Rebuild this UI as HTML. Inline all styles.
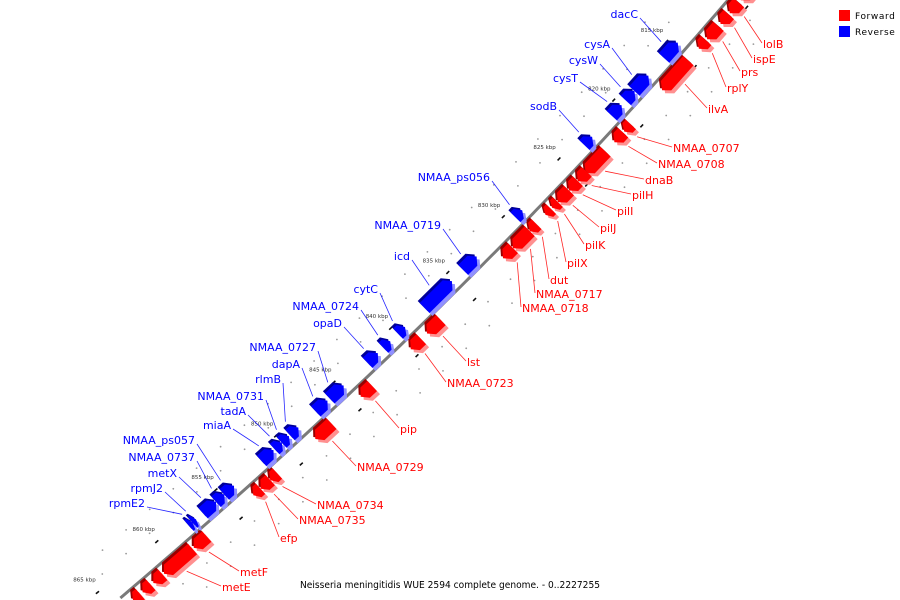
<!DOCTYPE html>
<html><head><meta charset="utf-8"><style>
html,body{margin:0;padding:0;background:#fff;width:900px;height:600px;overflow:hidden;}
svg{display:block;}
text{font-family:"DejaVu Sans","Liberation Sans",sans-serif;}
</style></head><body>
<svg id="map" width="900" height="600" viewBox="0 0 900 600" overflow="hidden" xmlns="http://www.w3.org/2000/svg">
<g id="grid"></g>
<path id="backbone" fill="none" stroke="#7a7a7a" stroke-width="3"/>
<g id="genes"></g>
<g id="labels"></g>
<g>
<rect x="839" y="10" width="11" height="11" fill="#ff0000"/>
<text x="855" y="19" font-size="9" letter-spacing="0.6" fill="#000">Forward</text>
<rect x="839" y="26" width="11" height="11" fill="#0000ff"/>
<text x="855" y="35" font-size="9" letter-spacing="0.6" fill="#000">Reverse</text>
</g>
<text x="300" y="588" font-size="10" textLength="300" lengthAdjust="spacingAndGlyphs" fill="#000">Neisseria meningitidis WUE 2594 complete genome. - 0..2227255</text>
</svg>
<script>
// tick labels (kbp)
const tickKbp = [810,815,820,825,830,835,840,845,850,855,860,865];
// gene data
const geneNames = ["","lolB","ispE","prs","rplY","ilvA","NMAA_0707","NMAA_0708","dnaB","pilH","pilI","pilJ","pilK","pilX","dut","NMAA_0717","NMAA_0718","lst","NMAA_0723","pip","NMAA_0729","NMAA_0734","NMAA_0735","efp","metF","metE","","","",
"dacC","cysA","cysW","cysT","sodB","NMAA_ps056","NMAA_0719","icd","cytC","NMAA_0724","opaD","NMAA_0727","dapA","rlmB","NMAA_0731","tadA","miaA","NMAA_ps057","NMAA_0737","metX","rpmJ2","rpmE2"];
const geneStart = [808.6,810.1,811.1,812.1,813.3,815.0,820.4,821.1,822.7,824.4,825.2,826.0,827.0,827.6,828.9,829.5,831.0,837.4,839.1,843.4,846.9,851.5,852.1,852.9,857.4,858.6,861.1,862.1,863.0,
814.6,817.4,818.7,819.9,822.6,828.9,833.0,835.2,839.3,840.6,841.7,844.7,846.1,848.6,849.4,850.0,850.7,854.0,854.8,855.5,857.2,857.5];
const geneEnd = [809.9,811.0,811.9,813.2,814.0,817.5,821.0,821.9,824.5,825.2,826.0,827.0,827.5,828.1,829.5,831.0,831.9,838.6,840.0,844.4,848.3,852.1,852.9,853.5,858.5,861.0,861.9,862.8,863.6,
815.9,818.7,819.5,820.8,823.3,829.5,834.2,837.6,839.9,841.2,842.6,845.9,847.1,849.3,850.0,850.6,851.7,854.8,855.5,856.6,857.5,857.8];
const geneStrand = [1,1,1,1,1,1,1,1,1,1,1,1,1,1,1,1,1,1,1,1,1,1,1,1,1,1,1,1,1,
-1,-1,-1,-1,-1,-1,-1,-1,-1,-1,-1,-1,-1,-1,-1,-1,-1,-1,-1,-1,-1,-1];
// label layout (x = left edge for forward / right edge for reverse, y = centre)
const labelLayout = [null,[763,44],[753,59],[741,72],[727,88],[708,109],[673,148],[658,164],[645,180],[632,195],[617,211],[600,228],[585,245],[567,263],[550,280],[536,294],[522,308],[467,362],[447,383],[400,429],[357,467],[317,505],[299,520],[280,538],[240,572],[222,587],null,null,null,
[638,14],[610,44],[598,60],[578,78],[557,106],[490,177],[441,225],[410,256],[378,289],[359,306],[342,323],[316,347],[300,364],[281,379],[264,396],[246,411],[231,425],[195,440],[195,457],[177,473],[163,488],[145,503]];

const NS="http://www.w3.org/2000/svg";
const ancK=[815,820,825,830,835,840,845,850,855,860,865];
const ancY=[54,113,172,230,286,342,396,450,504,556,607];
function kToY(k){
  let i=0; while(i<ancK.length-2 && k>ancK[i+1]) i++;
  return ancY[i]+(k-ancK[i])*(ancY[i+1]-ancY[i])/(ancK[i+1]-ancK[i]);
}
function pt(k){const t=kToY(k)/600;return [(1-t)*(1-t)*728+2*t*(1-t)*471+t*t*118, 600*t];}
function tan(k){const t=kToY(k)/600;const dx=-514*(1-t)-706*t,dy=600;const l=Math.hypot(dx,dy);return [dx/l,dy/l];}
function mk(tag,attrs,parent){const e=document.createElementNS(NS,tag);for(const a in attrs)e.setAttribute(a,attrs[a]);parent.appendChild(e);return e;}

// backbone
let d="";for(let y=-2;y<=600;y+=4){const t=y/600;const x=(1-t)*(1-t)*728+2*t*(1-t)*471+t*t*118;d+=(y===-2?"M":"L")+x.toFixed(1)+","+y;}
document.getElementById('backbone').setAttribute('d',d);

const grid=document.getElementById('grid');
function sideN(k,s){const u=tan(k);let n=[u[1],-u[0]];if(n[0]+n[1]<0)n=[-n[0],-n[1]];return s>0?n:[-n[0],-n[1]];}

// sparse grey dots
for(let k=808;k<=866;k+=2){
  [1,-1].forEach(s=>{[30,48].forEach((off,j)=>{
    const kk=k+(j?1:0)+(s>0?0.5:0);const p=pt(kk),n=sideN(kk,s);
    if(p[1]<0||p[1]>600)return;
    const c=mk('circle',{cx:(p[0]+n[0]*off).toFixed(1),cy:(p[1]+n[1]*off).toFixed(1),r:0.9,fill:'#999'},grid);
    
    
  });});
}
// major ticks + labels
tickKbp.forEach(k=>{
  [1,-1].forEach(s=>{
    const p=pt(k),n=sideN(k,s),u=tan(k);
    const cx=p[0]+n[0]*19,cy=p[1]+n[1]*19;
    const l=mk('line',{x1:(cx-u[0]*2).toFixed(1),y1:(cy-u[1]*2).toFixed(1),x2:(cx+u[0]*2).toFixed(1),y2:(cy+u[1]*2).toFixed(1),stroke:'#111','stroke-width':1.6},grid);
    
    
  });
  const p=pt(k),n=sideN(k,-1);
  const t=mk('text',{x:(p[0]+n[0]*36-2).toFixed(1),y:(p[1]+n[1]*36+2).toFixed(1),'font-size':5.5,'text-anchor':'middle',fill:'#333'},grid);
  t.textContent=k+" kbp";
  
  
});

const genes=document.getElementById('genes'),labels=document.getElementById('labels');
const d1=3,d2=17;
for(let i=0;i<geneNames.length;i++){
  const a=geneStart[i],b=geneEnd[i],s=geneStrand[i];
  const m=(a+b)/2,n=sideN(m,s);
  const pa=pt(a),pb=pt(b);
  let ux=pb[0]-pa[0],uy=pb[1]-pa[1];const L=Math.hypot(ux,uy);ux/=L;uy/=L;
  const h=Math.min(6,L*0.5);
  const off=(p,dd,along)=>[p[0]+n[0]*dd+ux*along,p[1]+n[1]*dd+uy*along];
  let P;
  if(s>0){P=[off(pa,d1,0),off(pa,d2,0),off(pb,d2,-h),off(pb,(d1+d2)/2,0),off(pb,d1,-h)];}
  else{P=[off(pb,d1,0),off(pb,d2,0),off(pa,d2,h),off(pa,(d1+d2)/2,0),off(pa,d1,h)];}
  const g=mk('g',{},genes);
  
  
  const cols=s>0?['#990000','#ff9090','#ff0000']:['#000099','#9090ff','#0000ff'];
  const shifts=[[-2,-2],[3,3],[0,0]];
  shifts.forEach((sh,j)=>{
    mk('polygon',{points:P.map(q=>(q[0]+sh[0]).toFixed(1)+","+(q[1]+sh[1]).toFixed(1)).join(" "),fill:cols[j]},g);
  });
  if(geneNames[i] && labelLayout[i]){
    const lp=labelLayout[i];const col=s>0?'#ff0000':'#0000ff';
    const gp=pt(m),gn=sideN(m,s);
    const ex=gp[0]+gn[0]*(d2+6),ey=gp[1]+gn[1]*(d2+6);
    const lx=s>0?lp[0]-1:lp[0]+2,ly=s>0?lp[1]-1:lp[1]+4;
    const ln=mk('line',{x1:ex.toFixed(1),y1:ey.toFixed(1),x2:lx,y2:ly,stroke:col,'stroke-width':0.8,opacity:0.85},labels);
    
    
    const t=mk('text',{x:lp[0],y:lp[1]+4,'font-size':11,'text-anchor':s>0?'start':'end',fill:col},labels);
    t.textContent=geneNames[i];
    
    
  }
}
</script>
</body></html>
